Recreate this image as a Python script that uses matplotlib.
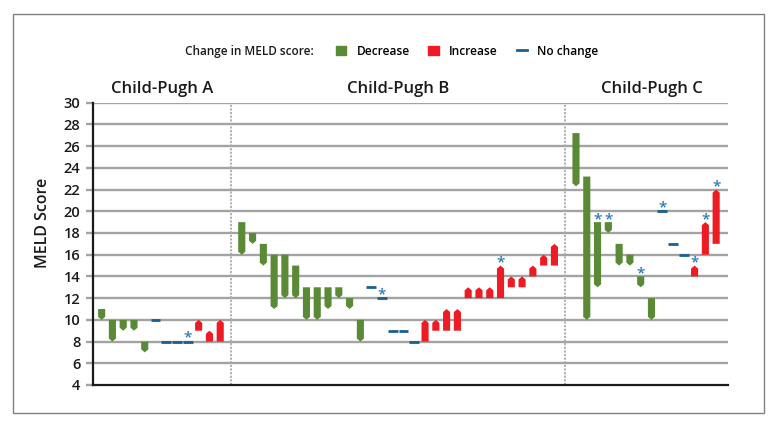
import numpy as np
import matplotlib
matplotlib.use("Agg")
import matplotlib.pyplot as plt
from matplotlib.patches import Patch, Rectangle
from matplotlib.lines import Line2D

plt.rcParams["font.family"] = ["Open Sans", "DejaVu Sans"]

groups = ["Child-Pugh A", "Child-Pugh B", "Child-Pugh C"]

a_start = [11, 10, 10, 10, 8, 10, 8, 8, 8, 9, 8, 8]
a_end = [10, 8, 9, 9, 7, 10, 8, 8, 8, 10, 9, 10]
a_star = [8]

b_start = [19, 18, 17, 16, 16, 15, 13, 13, 13, 13, 12, 10, 13, 12, 9,
           9, 8, 8, 9, 9, 9, 12, 12, 12, 12, 13, 13, 14, 15, 15]
b_end = [16, 17, 15, 11, 12, 12, 10, 10, 11, 12, 11, 8, 13, 12, 9,
         9, 8, 10, 10, 11, 11, 13, 13, 13, 15, 14, 14, 15, 16, 17]
b_star = [13, 24]

c_start = [27.2, 23.2, 19, 19, 17, 16, 14, 12, 20, 17, 16, 14, 16, 17]
c_end = [22.3, 10, 13, 18, 15, 15, 13, 10, 20, 17, 16, 15, 19, 22]
c_star = [2, 3, 6, 8, 11, 12, 13]

green = "#5a8a36"
red = "#ed1c24"
blue = "#1d5f8c"
star_blue = "#2f7bb5"
grid_grey = "#a3a3a3"

bar_w = 0.66
tip = 0.28


def draw_group(ax, x0, start, end, stars):
    for i, (s, e) in enumerate(zip(start, end)):
        x = x0 + i
        if e < s:
            xs = [x - bar_w / 2, x + bar_w / 2, x + bar_w / 2, x, x - bar_w / 2]
            ys = [s, s, e + tip, e, e + tip]
            ax.fill(xs, ys, color=green, lw=0, zorder=3)
            top = s
        elif e > s:
            xs = [x - bar_w / 2, x + bar_w / 2, x + bar_w / 2, x, x - bar_w / 2]
            ys = [s, s, e - tip, e, e - tip]
            ax.fill(xs, ys, color=red, lw=0, zorder=3)
            top = e
        else:
            ax.hlines(s, x - 0.45, x + 0.45, color=blue, lw=2, zorder=3)
            top = s + 0.1
        if i in stars:
            ax.annotate("*", (x, top), xytext=(0, -3), textcoords="offset points",
                        ha="center", va="bottom", fontsize=11, color=star_blue,
                        fontweight="semibold", zorder=4)


fig = plt.figure(figsize=(7.78, 4.26), dpi=100)
ax = fig.add_axes([93 / 778, 1 - 385 / 426, 635 / 778, (385 - 102.7) / 426])

x_a = 0
x_b = len(a_start) + 1
x_c = x_b + len(b_start) + 1

draw_group(ax, x_a, a_start, a_end, a_star)
draw_group(ax, x_b, b_start, b_end, b_star)
draw_group(ax, x_c, c_start, c_end, c_star)

x_max = x_c + len(c_start) + 0.1
ax.set_xlim(-0.8, x_max)
ax.set_ylim(4, 30)
ax.set_yticks(np.arange(4, 31, 2))
ax.set_xticks([])

for y in np.arange(6, 31, 2):
    ax.axhline(y, color=grid_grey, lw=1.7, zorder=1)
for sx in (x_b - 1, x_c - 1):
    ax.vlines(sx, 4, 30, color="#aaaaaa", lw=1.3, linestyles=(0, (1.2, 0.8)), zorder=2)

for side in ("top", "right"):
    ax.spines[side].set_visible(False)
ax.spines["left"].set_linewidth(1.6)
ax.spines["bottom"].set_linewidth(1.6)
ax.spines["left"].set_color("#1a1a1a")
ax.spines["bottom"].set_color("#1a1a1a")
ax.tick_params(axis="y", length=5, width=1.7, color=grid_grey, pad=4,
               labelsize=10.5, labelcolor="#1a1a1a")
ax.yaxis.get_major_ticks()[0].tick1line.set_color("#1a1a1a")
for lab in ax.get_yticklabels():
    lab.set_fontweight("semibold")

ax.set_ylabel("MELD Score", fontsize=11.5, fontweight="semibold", color="#1a1a1a")
ax.yaxis.set_label_coords(-0.066, 0.574)

centers = [(-0.8 + x_b - 1) / 2, (x_b + x_c - 2) / 2, x_c + 7]
for name, cx in zip(groups, centers):
    ax.text(cx, 31.25, name, ha="center", va="center", fontsize=12,
            fontweight="semibold", color="#1a1a1a", clip_on=False)

fig.text(185 / 778, 0.880, "Change in MELD score:", ha="left", va="center",
         fontsize=8.5, fontweight="semibold", color="#1a1a1a")
handles = [Patch(color=green), Patch(color=red), Line2D([0], [0], color=blue, lw=2)]
fig.legend(handles, ["Decrease", "Increase", "No change"], ncol=3, frameon=False,
           loc="center left", bbox_to_anchor=(335.7 / 778, 0.880), borderpad=0,
           borderaxespad=0, handlelength=0.9, handleheight=0.9, handletextpad=0.85,
           columnspacing=1.55, prop={"size": 8.6, "weight": "semibold"})

fig.patches.append(Rectangle((12.5 / 778, 1 - 413 / 426), (764 - 12.5) / 778, (413 - 14) / 426,
                             transform=fig.transFigure, fill=False, ec="#808080", lw=1))

plt.savefig("out.png", dpi=100)
